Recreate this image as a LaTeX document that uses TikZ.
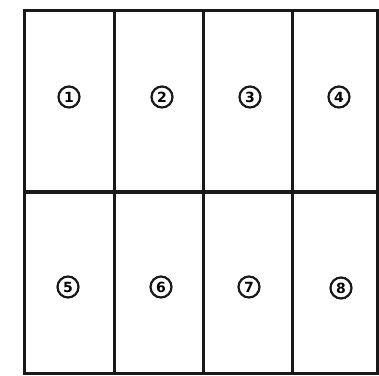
\documentclass[tikz,border=0pt]{standalone}
\usepackage{fontspec}
\newfontfamily\numfont{DejaVu Sans}
\usepackage{tikz}
\usetikzlibrary{positioning}

\begin{document}
\begin{tikzpicture}[
        x=1pt, y=-1pt,
        cell/.style={draw=black!90, line width=3pt, minimum width=89pt, minimum height=182pt, inner sep=0pt},
        num/.style={draw=black!90, circle, line width=2.2pt, inner sep=0pt, minimum size=21pt, font=\numfont\bfseries\fontsize{14}{14}\selectfont},
    ]
        \useasboundingbox (0, 0) rectangle (379, 375);
        \node[cell, minimum width=90pt] (c1) at (69, 101) {};
        \node[cell]                     (c2) at (158.5, 101) {};
        \node[cell]                     (c3) at (247.5, 101) {};
        \node[cell, minimum width=85pt] (c4) at (334.5, 101) {};
        \node[cell, minimum width=90pt] (c5) at (69, 282.5) {};
        \node[cell]                     (c6) at (158.5, 282.5) {};
        \node[cell]                     (c7) at (247.5, 282.5) {};
        \node[cell, minimum width=85pt] (c8) at (334.5, 282.5) {};
        \node[num]  (n1) at (69, 97) {1};
        \node[num]  (n2) at (162, 97) {2};
        \node[num]  (n3) at (250, 97) {3};
        \node[num]  (n4) at (339, 97) {4};
        \node[num]  (n5) at (68, 287) {5};
        \node[num]  (n6) at (161, 287) {6};
        \node[num]  (n7) at (249, 287) {7};
        \node[num]  (n8) at (341, 288) {8};
    \end{tikzpicture}
\end{document}
